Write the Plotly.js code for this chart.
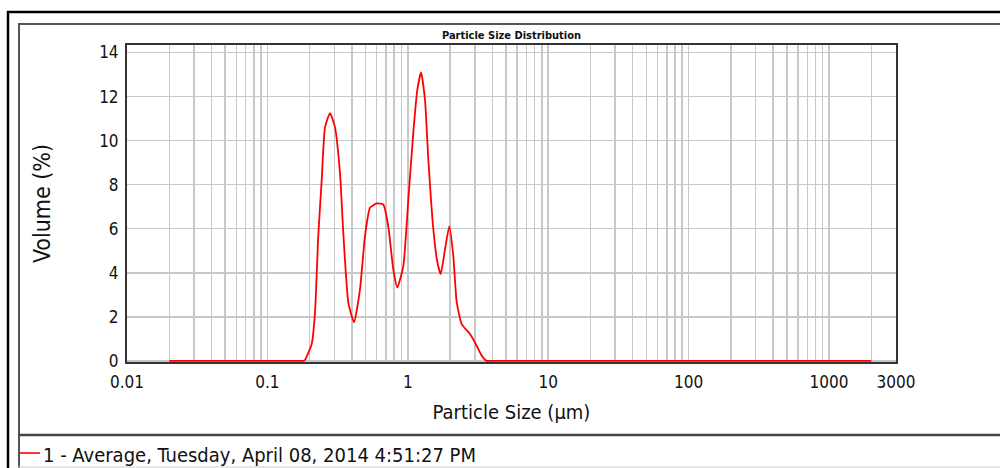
<!DOCTYPE html>
<html>
<head>
<meta charset="utf-8">
<script src="https://cdn.plot.ly/plotly-3.0.1.min.js"></script>
<style>
  html, body { margin: 0; padding: 0; background: #ffffff; }
  #chart { width: 1000px; height: 468px; }
</style>
</head>
<body>
<div id="chart"></div>
<script>
// ---- data ----
const particleSize = [0.02, 0.05, 0.17, 0.18, 0.1854, 0.2068, 0.2183, 0.2304, 0.2436, 0.2572, 0.2792, 0.3030, 0.3290, 0.3472, 0.3770, 0.4138, 0.4565, 0.4956, 0.5380, 0.6005, 0.6690, 0.7263, 0.7885, 0.8418, 0.9288, 1.008, 1.094, 1.169, 1.242, 1.326, 1.400, 1.519, 1.622, 1.715, 1.841, 1.975, 2.109, 2.230, 2.421, 2.773, 3.095, 3.360, 3.648, 3.9, 100, 2000];
const volumePct    = [0,    0,    0,    0,    0.05,   0.77,   2.2,    5.7,    8.2,    10.6,   11.25,  10.6,   8.5,    5.8,    2.65,   1.75,   3.25,   5.67,   6.95,   7.15,   7.1,    6.1,    4.15,   3.33,   4.3,    7.3,   10.35, 12.3,  13.1,  11.85, 9.15,  6.0,   4.5,   3.94,  5.07,  6.12,  4.76,  2.67,  1.67,  1.22,  0.69,  0.24,  0,     0,   0,   0];
const xTickVals  = [0.01, 0.1, 1, 10, 100, 1000, 3000];
const xTickText  = ["0.01", "0.1", "1", "10", "100", "1000", "3000"];
const seriesName = "1 - Average, Tuesday, April 08, 2014 4:51:27 PM";
const chartTitle = "Particle Size Distribution";
const xTitle = "Particle Size (µm)";
const yTitle = "Volume (%)";

// ---- layout geometry (pixels) ----
const W = 1000, H = 468;
const L = 127, R = 896, T = 45, B = 362;
const px = x => (x - L) / (R - L);
const py = y => (B - y) / (B - T);

const FONT = "Liberation Sans Narrow, DejaVu Sans Condensed, sans-serif";

function hline(y, x0, x1, color, w) {
  return {type: 'line', xref: 'paper', yref: 'paper', x0: px(x0), x1: px(x1), y0: py(y), y1: py(y), line: {color: color, width: w}};
}
function vline(x, y0, y1, color, w) {
  return {type: 'line', xref: 'paper', yref: 'paper', x0: px(x), x1: px(x), y0: py(y0), y1: py(y1), line: {color: color, width: w}};
}

const trace = {
  x: particleSize,
  y: volumePct,
  type: 'scatter',
  mode: 'lines',
  name: seriesName,
  line: {color: '#ff0000', width: 1.8, shape: 'spline', smoothing: 0.5},
  showlegend: false,
  hoverinfo: 'x+y'
};

const layout = {
  width: W, height: H,
  paper_bgcolor: '#ffffff',
  plot_bgcolor: '#ffffff',
  margin: {l: L, r: W - R, t: T, b: H - B, pad: 0},
  font: {family: FONT, color: '#111111', size: 17},
  title: {
    text: '<b>' + chartTitle + '</b>',
    font: {family: FONT, size: 11, color: '#111111'},
    x: 0.5, xref: 'paper', xanchor: 'center',
    y: 1 - 35 / H, yref: 'container', yanchor: 'middle'
  },
  xaxis: {
    type: 'log',
    range: [Math.log10(0.01), Math.log10(3000)],
    tickmode: 'array',
    tickvals: xTickVals,
    ticktext: xTickText,
    ticks: '',
    ticklabelstandoff: 4,
    tickfont: {family: FONT, size: 17, color: '#111111'},
    showgrid: true,
    gridcolor: '#c8c8c8',
    gridwidth: 1.5,
    minor: {dtick: 'D1', showgrid: true, gridcolor: '#c8c8c8', gridwidth: 1.5, ticks: ''},
    showline: true, linecolor: '#333333', linewidth: 2, mirror: true,
    zeroline: false,
    layer: 'below traces',
    title: {text: xTitle, font: {family: FONT, size: 20, color: '#111111'}, standoff: 14}
  },
  yaxis: {
    range: [-0.05, 14.34],
    tickmode: 'linear',
    dtick: 2,
    tick0: 0,
    ticks: '',
    ticklabelstandoff: 3,
    tickfont: {family: FONT, size: 17, color: '#111111'},
    showgrid: true,
    gridcolor: '#c8c8c8',
    gridwidth: 1.5,
    showline: true, linecolor: '#333333', linewidth: 2, mirror: true,
    zeroline: false,
    layer: 'below traces',
    title: {text: yTitle, font: {family: FONT, size: 23, color: '#111111'}, standoff: 42}
  },
  shapes: [
    // outer black frame
    hline(12, 7, W + 5, '#000000', 2.5),
    vline(8, 11, H + 5, '#000000', 2.5),
    // inner panel frame
    hline(24, 18, W + 5, '#555555', 2),
    vline(19, 23, H + 5, '#555555', 2),
    // legend separator
    hline(435, 18, W + 5, '#444444', 2.5),
    hline(467, 18, W + 5, '#cccccc', 1),
    // legend swatch
    hline(453, 20, 40, '#ff0000', 1.6)
  ],
  annotations: [
    {
      text: seriesName,
      xref: 'paper', yref: 'paper',
      x: px(41), y: py(455),
      xanchor: 'left', yanchor: 'middle',
      showarrow: false,
      font: {family: FONT, size: 20, color: '#111111'}
    }
  ]
};

Plotly.newPlot('chart', [trace], layout, {displayModeBar: false, staticPlot: true});
</script>
</body>
</html>
